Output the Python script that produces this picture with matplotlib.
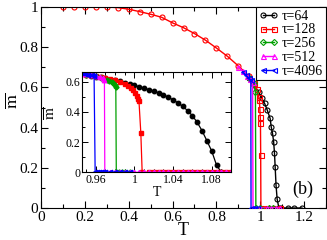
import matplotlib
matplotlib.use("Agg")
import matplotlib.pyplot as plt
from matplotlib.ticker import MultipleLocator, FuncFormatter

plt.rcParams['font.family'] = ['Liberation Serif', 'DejaVu Serif']
plt.rcParams['mathtext.fontset'] = 'stix'

# ---------------- main panel data ----------------
low_T = [0.10, 0.15, 0.20, 0.25, 0.30, 0.35, 0.40, 0.45, 0.50, 0.55, 0.60, 0.65,
         0.70, 0.75, 0.80, 0.85, 0.90, 0.95]
low_m = [1.0, 1.0, 1.0, 1.0, 1.0, 0.997, 0.989, 0.977, 0.964, 0.949, 0.921, 0.897,
         0.868, 0.835, 0.796, 0.755, 0.707, 0.655]

t64_T = [0.95, 0.97, 0.993, 1.007, 1.02, 1.032, 1.045, 1.05, 1.056, 1.061, 1.065,
         1.068, 1.072, 1.077, 1.085, 1.095, 1.125, 1.155, 1.19]
t64_m = [0.645, 0.611, 0.578, 0.545, 0.52, 0.487, 0.446, 0.404, 0.371, 0.33, 0.272,
         0.205, 0.114, 0.045, 0.0, 0.0, 0.0, 0.0, 0.0]

t128_T = [0.97, 0.985, 0.993, 0.996, 0.998, 1.0, 1.001, 1.002, 1.003, 1.03, 1.06, 1.09]
t128_m = [0.62, 0.59, 0.553, 0.536, 0.495, 0.454, 0.421, 0.263, 0.0, 0.0, 0.0, 0.0]

t256_T = [0.95, 0.96, 0.97, 0.978, 0.98, 1.0, 1.04, 1.06]
t256_m = [0.647, 0.635, 0.622, 0.575, 0.0, 0.0, 0.0, 0.0]

t512_T = [0.90, 0.92, 0.94, 0.955, 0.965, 0.967, 0.98, 1.0, 1.03, 1.05, 1.07, 1.09]
t512_m = [0.702, 0.68, 0.657, 0.64, 0.627, 0.0, 0.0, 0.0, 0.0, 0.0, 0.0, 0.0]

t4096_T = [0.92, 0.935, 0.95, 0.957, 0.958, 0.97, 0.985]
t4096_m = [0.678, 0.661, 0.645, 0.636, 0.0, 0.0, 0.0]

# ---------------- inset data ----------------
in64_T = [0.950, 0.955, 0.960, 0.965, 0.970, 0.975, 0.980, 0.985, 0.990, 0.995,
          1.000, 1.005, 1.010, 1.015, 1.020, 1.025, 1.030, 1.035, 1.040, 1.045,
          1.050, 1.055, 1.060, 1.065, 1.070, 1.075, 1.080, 1.085, 1.090]
in64_m = [0.640, 0.636, 0.632, 0.627, 0.620, 0.613, 0.607, 0.601, 0.592, 0.584,
          0.575, 0.565, 0.556, 0.546, 0.536, 0.525, 0.512, 0.496, 0.479, 0.459,
          0.436, 0.408, 0.374, 0.330, 0.275, 0.209, 0.141, 0.048, 0.0]

in128_T = [0.950, 0.955, 0.960, 0.965, 0.970, 0.975, 0.980, 0.985, 0.990, 0.9935,
           0.996, 0.9985, 1.001, 1.0027, 1.004, 1.0047, 1.0066, 1.008, 1.015, 1.020,
           1.025, 1.030, 1.035, 1.040, 1.045, 1.050, 1.055, 1.060, 1.065, 1.070,
           1.075, 1.080, 1.085, 1.090, 1.095, 1.100]
in128_m = [0.645, 0.640, 0.635, 0.630, 0.622, 0.615, 0.607, 0.596, 0.583, 0.568,
           0.556, 0.541, 0.523, 0.506, 0.486, 0.469, 0.261, 0.0, 0.0, 0.0,
           0.0, 0.0, 0.0, 0.0, 0.0, 0.0, 0.0, 0.0, 0.0, 0.0,
           0.0, 0.0, 0.0, 0.0, 0.0, 0.0]

in256_T = [0.950, 0.955, 0.960, 0.965, 0.9714, 0.974, 0.9766, 0.978, 0.980, 0.9807,
           0.9812, 0.984, 0.987, 0.990, 0.995]
in256_m = [0.645, 0.640, 0.634, 0.626, 0.611, 0.605, 0.596, 0.587, 0.574, 0.561,
           0.0, 0.0, 0.0, 0.0, 0.0]

in512_T = [0.946, 0.950, 0.955, 0.960, 0.9645, 0.967, 0.9689, 0.9693, 0.975, 0.980,
           0.985, 0.990, 0.995, 1.000, 1.005, 1.010, 1.015, 1.020, 1.025, 1.030,
           1.035, 1.040, 1.045, 1.050, 1.055, 1.060, 1.065, 1.070, 1.075, 1.080,
           1.085, 1.090, 1.095, 1.100]
in512_m = [0.650, 0.647, 0.642, 0.636, 0.629, 0.622, 0.611, 0.0, 0.0, 0.0,
           0.0, 0.0, 0.0, 0.0, 0.0, 0.0, 0.0, 0.0, 0.0, 0.0,
           0.0, 0.0, 0.0, 0.0, 0.0, 0.0, 0.0, 0.0, 0.0, 0.0,
           0.0, 0.0, 0.0, 0.0]

in4096_T = [0.9455, 0.949, 0.9523, 0.9558, 0.9582, 0.9593, 0.961, 0.963, 0.965,
            0.967, 0.970, 0.975, 0.980, 0.985, 0.990, 0.995]
in4096_m = [0.655, 0.649, 0.644, 0.640, 0.634, 0.0, 0.0, 0.0, 0.0,
            0.0, 0.0, 0.0, 0.0, 0.0, 0.0, 0.0]

labels = ['τ=64', 'τ=128', 'τ=256', 'τ=512', 'τ=4096']
colors = ['black', '#ff0000', '#00a000', '#ff00ff', '#0000ff']
markers = ['o', 's', 'D', '^', '<']

main_series = [(t64_T, t64_m), (t128_T, t128_m), (t256_T, t256_m),
               (t512_T, t512_m), (t4096_T, t4096_m)]
inset_series = [(in64_T, in64_m), (in128_T, in128_m), (in256_T, in256_m),
                (in512_T, in512_m), (in4096_T, in4096_m)]

fig = plt.figure(figsize=(3.27, 2.40), dpi=100)
ax = fig.add_axes([0.1254, 0.1333, 0.8716, 0.8375])

ax.plot(low_T, low_m, color='#ff0000', lw=1.0, marker='o', ms=3.6, mfc='none',
        mew=0.8, zorder=2)
for (T, m), lab, c, mk in zip(main_series, labels, colors, markers):
    ms = 3.6 if mk != 'D' else 3.1
    ax.plot(T, m, color=c, lw=1.0, marker=mk, ms=ms, mfc='none', mew=0.8,
            label=lab, zorder=3)

ax.set_xlim(0, 1.3)
ax.set_ylim(0, 1.0)
ax.xaxis.set_major_locator(MultipleLocator(0.2))
ax.xaxis.set_minor_locator(MultipleLocator(0.1))
ax.yaxis.set_major_locator(MultipleLocator(0.2))
ax.yaxis.set_minor_locator(MultipleLocator(0.1))
fmt = FuncFormatter(lambda v, p: '%g' % round(v, 3))
ax.xaxis.set_major_formatter(fmt)
ax.yaxis.set_major_formatter(fmt)
ax.tick_params(which='both', direction='in', top=True, right=True,
               labelsize=11, width=0.8)
ax.tick_params(which='major', length=5, pad=2)
ax.tick_params(which='minor', length=3)
ax.set_xlabel('T', fontsize=13, labelpad=-1)
ax.set_ylabel(r'$\overline{\mathrm{m}}$', fontsize=13)
ax.yaxis.set_label_coords(-0.07, 0.53)

leg = ax.legend(loc='upper right', fontsize=10, frameon=True, fancybox=False,
                edgecolor='black', framealpha=1, borderaxespad=0.0,
                borderpad=0.2, labelspacing=0.05, handlelength=1.4,
                handletextpad=0.3, numpoints=2)
leg.get_frame().set_linewidth(0.8)

ax.text(0.92, 0.092, '(b)', transform=ax.transAxes, fontsize=13,
        ha='center', va='center')

# ---------------- inset ----------------
ins = fig.add_axes([0.2517, 0.2821, 0.4547, 0.4192])
for (T, m), c, mk in zip(inset_series, colors, markers):
    ms = 3.2 if mk != 'D' else 2.6
    ins.plot(T, m, color=c, lw=0.9, marker=mk, ms=ms, mec=c, mfc=c)
ins.set_xlim(0.946, 1.1)
ins.set_ylim(0, 0.665)
ins.xaxis.set_major_locator(MultipleLocator(0.04))
ins.xaxis.set_minor_locator(MultipleLocator(0.01))
ins.yaxis.set_major_locator(MultipleLocator(0.2))
ins.yaxis.set_minor_locator(MultipleLocator(0.1))
ins.set_xticks([0.96, 1.0, 1.04, 1.08])
ins.xaxis.set_major_formatter(fmt)
ins.yaxis.set_major_formatter(fmt)
ins.tick_params(which='both', direction='in', top=True, right=True,
                labelsize=8.5, width=0.7)
ins.tick_params(which='major', length=4, pad=1.5)
ins.tick_params(which='minor', length=2.5)
ins.set_xlabel('T', fontsize=10, labelpad=0)
ins.set_ylabel(r'$\overline{\mathrm{m}}$', fontsize=11)
ins.yaxis.set_label_coords(-0.16, 0.59)

fig.savefig('out.png', dpi=100)
